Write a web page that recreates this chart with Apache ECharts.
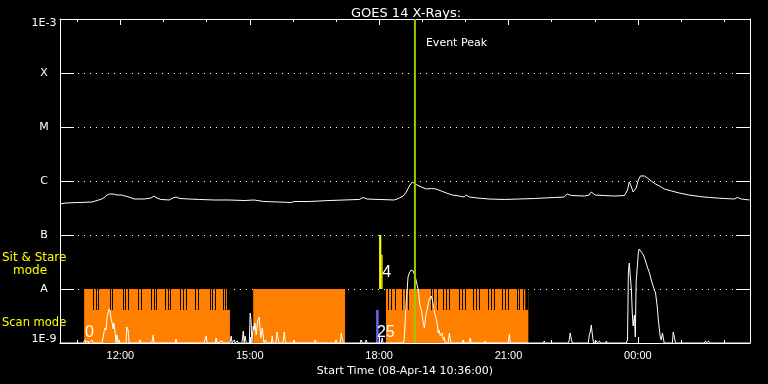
<!DOCTYPE html>
<html><head><meta charset="utf-8">
<script src="https://cdn.jsdelivr.net/npm/echarts@6/dist/echarts.min.js"></script>
<style>html,body{margin:0;padding:0;background:#000;}#c{width:768px;height:384px;}</style>
</head><body><div id="c"></div>
<script>
// ---------------- data ----------------
const titleText = 'GOES 14 X-Rays:';
const xAxisTitle = 'Start Time (08-Apr-14 10:36:00)';
const startHour = 10.6;   // 08-Apr-14 10:36
const endHour = 26.6;     // 09-Apr-14 02:36
const majorTicks = [12, 15, 18, 21, 24];
const majorLabels = ['12:00', '15:00', '18:00', '21:00', '00:00'];
const minorTicks = [11, 13, 14, 16, 17, 19, 20, 22, 23, 25, 26];
const yExponents = [-9, -8, -7, -6, -5, -4, -3];
const yLabels = ['1E-9', 'A', 'B', 'C', 'M', 'X', '1E-3'];

// GOES long channel flux (units of 1e-7 W/m^2)
const goesHours = [10.60,10.72,11.04,11.34,11.50,11.57,11.64,11.69,11.74,11.85,11.92,12.02,12.11,12.20,12.32,12.55,12.71,12.78,12.85,12.94,13.13,13.22,13.29,13.38,13.59,13.83,14.17,14.52,14.87,15.10,15.33,15.68,15.96,16.03,16.38,16.84,17.19,17.54,17.63,17.72,18.00,18.35,18.47,18.56,18.63,18.70,18.77,18.81,18.88,18.98,19.09,19.21,19.32,19.44,19.56,19.70,19.86,19.97,20.02,20.09,20.28,20.55,20.90,21.25,21.60,22.06,22.29,22.36,22.46,22.76,22.87,22.92,23.01,23.22,23.45,23.69,23.76,23.80,23.85,23.89,23.96,24.01,24.06,24.15,24.22,24.31,24.41,24.50,24.61,24.78,24.96,25.19,25.43,25.66,25.89,26.24,26.31,26.40,26.59];
const goesFlux = [3.75,3.91,4.00,4.08,4.45,4.64,5.05,5.50,5.74,5.74,5.50,5.50,5.27,5.05,4.64,4.64,4.84,5.27,4.84,4.55,4.45,4.84,5.05,4.74,4.64,4.55,4.45,4.45,4.35,4.45,4.17,4.08,4.00,4.17,4.17,4.35,4.45,4.55,4.95,4.64,4.55,4.45,4.84,5.27,6.25,8.07,9.58,9.58,8.43,7.74,7.11,7.26,7.11,6.53,5.99,5.50,5.27,5.05,5.50,5.05,4.84,4.64,4.55,4.64,4.74,4.95,5.05,5.74,5.38,5.27,5.50,6.25,5.50,5.38,5.27,5.38,6.81,9.58,7.74,6.25,7.42,10.4,12.4,12.4,11.4,10.0,8.80,8.07,7.11,6.53,5.99,5.50,5.16,4.95,4.80,4.64,4.95,4.64,4.45];

// lower (scan) curve: [hour, value in units of 1e-9]
const scanCurve = [[10.60,1],[11.13,1],[11.18,1.14],[11.20,1],[11.25,1.09],[11.27,1],[11.34,1.14],[11.37,1],
[11.57,1],[11.60,1.24],[11.62,1.60],[11.64,1.90],[11.67,1.74],[11.69,3.03],[11.71,3.59],[11.74,4.26],[11.76,3.91],[11.78,2.90],[11.81,2.35],[11.83,1.82],[11.85,2.35],[11.88,1.53],[11.90,1],[11.92,1.41],[11.95,1],[11.97,1.14],[11.99,1],
[12.13,1],[12.15,1.98],[12.18,1.74],[12.20,1],[12.43,1],[12.46,1.14],[12.48,1],[12.73,1],[12.76,1.41],[12.78,1],
[13.27,1],[13.29,1.19],[13.31,1],[13.94,1],[13.96,1.14],[13.99,1.35],[14.01,1],[14.20,1],[14.22,1.24],[14.24,1],[14.36,1.09],[14.38,1],
[14.54,1],[14.57,1.35],[14.59,1],[14.64,1.14],[14.66,1],[14.71,1.09],[14.73,1],[14.82,1],[14.85,1.67],[14.87,1],[14.89,1.35],[14.92,1],
[14.99,1],[15.01,3.59],[15.03,2.67],[15.05,1],[15.08,2.07],[15.10,1.74],[15.12,2.35],[15.15,1.41],[15.17,2.07],[15.19,2.67],[15.22,3.03],[15.24,1.74],[15.26,1.24],[15.29,1.90],[15.31,1.41],[15.33,1],[15.36,1.14],[15.40,1],
[15.50,1],[15.52,1.35],[15.54,1],[15.61,1],[15.63,1.60],[15.66,1.19],[15.68,1],[15.77,1],[15.80,1.60],[15.82,1.14],[15.84,1],
[16.01,1],[16.03,1.14],[16.05,1],[16.49,1],[16.52,1.14],[16.54,1],[16.98,1],[17.00,1.14],[17.03,1],[17.10,1],[17.12,1.53],[17.14,1.24],[17.17,1],
[17.56,1],[17.58,1.14],[17.61,1],[17.68,1],[17.70,1.14],[17.72,1],[18.05,1],[18.07,1.24],[18.09,1],
[18.56,1],[18.58,1.14],[18.60,2.15],[18.63,6.26],[18.65,9.58],[18.67,16.7],[18.70,19.8],[18.72,21.5],[18.74,22.5],[18.77,22.5],[18.79,21.5],[18.81,19.8],[18.84,16.7],[18.86,14.1],[18.88,11.9],[18.91,9.58],[18.93,6.26],[18.95,4.84],[18.98,4.08],[19.00,3.16],[19.02,2.45],[19.05,1.90],[19.07,2.67],[19.09,3.59],[19.12,4.45],[19.14,5.51],[19.16,6.26],[19.18,6.81],[19.21,7.42],[19.23,7.11],[19.25,5.51],[19.28,3.75],[19.30,3.30],[19.32,2.90],[19.35,2.15],[19.37,1.53],[19.39,1.74],[19.42,1.35],[19.44,1.24],[19.46,1.53],[19.49,1.14],[19.51,1.29],[19.53,1],
[19.60,1],[19.63,1.53],[19.65,1.14],[19.67,1],[19.93,1],[19.95,1.14],[19.97,1],[20.09,1],[20.11,1.24],[20.14,1],[20.44,1],[20.46,1.09],[20.48,1],
[20.99,1],[21.02,1.47],[21.04,1],[21.81,1],[21.83,1.09],[21.85,1],[22.39,1],[22.41,1.14],[22.43,1.53],[22.46,1.14],[22.48,1],
[22.85,1],[22.87,1.35],[22.90,1.67],[22.92,2.15],[22.94,1.53],[22.97,1],[23.01,1],[23.04,1.09],[23.06,1],[23.11,1.09],[23.13,1],[23.25,1],[23.27,1.09],[23.29,1],
[23.73,1],[23.76,1.14],[23.78,20.6],[23.80,30.3],[23.83,29.0],[23.85,9.58],[23.87,3.59],[23.89,2.07],[23.92,3.30],[23.94,1.29],[23.96,13.5],[23.99,27.8],[24.01,46.4],[24.03,55.0],[24.06,52.7],[24.08,48.4],[24.13,42.6],[24.17,34.4],[24.22,25.5],[24.27,19.8],[24.31,14.7],[24.36,10.9],[24.41,8.43],[24.45,4.64],[24.47,2.90],[24.50,1.74],[24.52,1.29],[24.54,1.14],[24.57,1.53],[24.59,1.24],[24.61,1],
[24.80,1],[24.82,1.60],[24.85,1.24],[24.87,1],[25.54,1],[25.57,1.09],[25.59,1],[25.64,1.09],[25.66,1],[26.59,1]];

// instrument modes
const baseLevel = 1e-9, scanFullLevel = 1e-8, scanPartLevel = 4.1e-9;
const scanBlocks = [[11.16, 14.54], [15.08, 17.21], [18.16, 21.46]];
const scanStripes = [11.37,11.43,11.49,11.75,11.81,12.05,12.11,12.17,12.42,12.48,12.72,12.78,12.83,13.04,13.10,13.15,13.39,13.45,13.52,13.74,13.79,14.07,14.13,14.19,14.37,14.42,
  18.21,18.28,18.36,18.52,18.60,18.67,19.20,19.26,19.34,19.47,19.55,19.63,19.86,19.93,20.00,20.17,20.24,20.31,20.52,20.59,20.67,20.84,20.91,20.98,21.19,21.25,21.33];
const scanPartial = [[14.47, 14.54], [21.39, 21.46]];
const sitStare = [[18.00, 18.05, 1.0e-7], [18.05, 18.08, 4.3e-8]];
const blueBar = [[17.93, 17.99, 4.1e-9]];
const plotNotes = [[11.18, 1.56e-9, '0'], [17.95, 1.53e-9, '25'], [18.07, 2.0e-8, '4']];
const eventPeakHour = 18.83;
const eventPeakLabel = 'Event Peak';
const eventLabelLevel = 3.6e-4;

// ---------------- chart ----------------
const W = '#ffffff';
const chart = echarts.init(document.getElementById('c'), null, {renderer: 'canvas'});

function rectRender(color) {
  return function (params, api) {
    const p0 = api.coord([api.value(0), api.value(2)]);
    const p1 = api.coord([api.value(1), api.value(3)]);
    return {type: 'rect', shape: {x: p0[0], y: p1[1], width: Math.max(1, p1[0] - p0[0]), height: p0[1] - p1[1]}, style: {fill: color}};
  };
}

const xCommon = {type: 'value', min: startHour, max: endHour, splitLine: {show: false}};
const yLabelMap = {};
yExponents.forEach((e, i) => yLabelMap[e] = yLabels[i]);

const option = {
  backgroundColor: '#000',
  animation: false,
  title: {text: titleText, left: 401, top: 2, textAlign: 'center',
    textStyle: {color: W, fontFamily: 'DejaVu Sans', fontSize: 13, fontWeight: 'normal'}},
  grid: {left: 60, right: 18, top: 19, bottom: 41},
  xAxis: [
    Object.assign({}, xCommon, {position: 'bottom',
      axisLine: {show: true, onZero: false, lineStyle: {color: W, width: 1}},
      axisTick: {show: true, inside: true, length: 6, customValues: majorTicks, lineStyle: {color: W}},
      axisLabel: {show: true, customValues: majorTicks, color: W, fontFamily: 'Liberation Sans', fontSize: 11, margin: 7,
        formatter: v => majorLabels[majorTicks.indexOf(Math.round(v))]},
      name: xAxisTitle, nameLocation: 'middle', nameGap: 19,
      nameTextStyle: {color: W, fontFamily: 'DejaVu Sans', fontSize: 11}}),
    Object.assign({}, xCommon, {position: 'bottom',
      axisLine: {show: false, onZero: false},
      axisTick: {show: true, inside: true, length: 3, customValues: minorTicks, lineStyle: {color: W}},
      axisLabel: {show: false}}),
    Object.assign({}, xCommon, {position: 'top',
      axisLine: {show: true, onZero: false, lineStyle: {color: W, width: 1}},
      axisTick: {show: true, inside: true, length: 6, customValues: majorTicks, lineStyle: {color: W}},
      axisLabel: {show: false}}),
    Object.assign({}, xCommon, {position: 'top',
      axisLine: {show: false, onZero: false},
      axisTick: {show: true, inside: true, length: 3, customValues: minorTicks, lineStyle: {color: W}},
      axisLabel: {show: false}})
  ],
  yAxis: [
    {type: 'log', logBase: 10, min: 1e-9, max: 1e-3, position: 'left',
      axisLine: {show: true, onZero: false, lineStyle: {color: W, width: 1}},
      axisTick: {show: true, inside: true, length: 14, lineStyle: {color: W}},
      axisLabel: {show: true, margin: 16, align: 'center', color: W, fontFamily: 'DejaVu Sans', fontSize: 11,
        formatter: v => {
          const e = Math.round(Math.log10(v));
          const t = yLabelMap[e];
          if (e === -9) return '{lo|' + t + '}';
          if (e === -3) return '{hi|' + t + '}';
          return '{n|' + t + '}';
        },
        rich: {
          lo: {color: W, fontFamily: 'DejaVu Sans', fontSize: 11, padding: [0, 0, 8, 0]},
          hi: {color: W, fontFamily: 'DejaVu Sans', fontSize: 11, padding: [8, 0, 0, 0]},
          n: {color: W, fontFamily: 'DejaVu Sans', fontSize: 11}
        }},
      splitLine: {show: true, lineStyle: {color: W, width: 1, type: [1, 5]}}},
    {type: 'log', logBase: 10, min: 1e-9, max: 1e-3, position: 'right',
      axisLine: {show: true, onZero: false, lineStyle: {color: W, width: 1}},
      axisTick: {show: true, inside: true, length: 14, lineStyle: {color: W}},
      axisLabel: {show: false}, splitLine: {show: false}}
  ],
  graphic: [
    {type: 'text', left: 2, top: 252, style: {text: 'Sit & Stare', fill: '#ffff00', font: '12px "DejaVu Sans"'}},
    {type: 'text', left: 13, top: 265, style: {text: 'mode', fill: '#ffff00', font: '12px "DejaVu Sans"'}},
    {type: 'text', left: 2, top: 317, style: {text: 'Scan mode', fill: '#ffff00', font: '11.5px "DejaVu Sans"'}}
  ],
  series: [
    {type: 'custom', name: 'scan', z: 1, silent: true, clip: true,
      renderItem: rectRender('#ff8000'), encode: {x: [0, 1], y: [2, 3]},
      data: scanBlocks.map(b => [b[0], b[1], baseLevel, scanFullLevel])},
    {type: 'custom', name: 'scanPartial', z: 2, silent: true, clip: true,
      renderItem: rectRender('#000000'), encode: {x: [0, 1], y: [2, 3]},
      data: scanPartial.map(b => [b[0], b[1], scanPartLevel, scanFullLevel])},
    {type: 'custom', name: 'stripes', z: 2, silent: true, clip: true,
      renderItem: function (params, api) {
        const pTop = api.coord([api.value(0), api.value(2)]);
        const pBot = api.coord([api.value(0), api.value(1)]);
        return {type: 'rect', shape: {x: Math.round(pTop[0]), y: pTop[1], width: 1, height: pBot[1] - pTop[1]}, style: {fill: '#000'}};
      },
      encode: {x: 0, y: [1, 2]},
      data: scanStripes.map(t => [t, scanPartLevel, scanFullLevel])},
    {type: 'custom', name: 'blue', z: 3, silent: true, clip: true,
      renderItem: rectRender('#6464f0'), encode: {x: [0, 1], y: [2, 3]},
      data: blueBar.map(b => [b[0], b[1], baseLevel, b[2]])},
    {type: 'custom', name: 'sitstare', z: 3, silent: true, clip: true,
      renderItem: rectRender('#ffff00'), encode: {x: [0, 1], y: [2, 3]},
      data: sitStare.map(b => [b[0], b[1], scanFullLevel, b[2]])},
    {type: 'line', name: 'scanCurve', z: 4, silent: true, showSymbol: false, symbol: 'none',
      lineStyle: {color: W, width: 1}, data: scanCurve.map(p => [p[0], p[1] * 1e-9])},
    {type: 'line', name: 'goes', z: 4, silent: true, showSymbol: false, symbol: 'none',
      lineStyle: {color: W, width: 1}, data: goesHours.map((h, i) => [h, goesFlux[i] * 1e-7])},
    {type: 'custom', name: 'notes', z: 5, silent: true,
      renderItem: function (params, api) {
        const p = api.coord([api.value(0), api.value(1)]);
        return {type: 'text', style: {text: plotNotes[params.dataIndex][2], x: p[0], y: p[1],
          fill: W, font: '16px "Liberation Sans"', align: 'left', verticalAlign: 'middle'}};
      },
      encode: {x: 0, y: 1},
      data: plotNotes.map(n => [n[0], n[1]])},
    {type: 'custom', name: 'event', z: 10, silent: true,
      renderItem: function (params, api) {
        const t = api.value(0);
        const pt = api.coord([t, 1e-3]);
        const pb = api.coord([t, 1e-9]);
        const pl = api.coord([t, api.value(1)]);
        return {type: 'group', children: [
          {type: 'line', shape: {x1: pt[0], y1: pt[1], x2: pb[0], y2: pb[1]}, style: {stroke: '#99cc00', lineWidth: 2}},
          {type: 'text', style: {text: eventPeakLabel, x: pl[0] + 11, y: pl[1], fill: W,
            font: '11px "DejaVu Sans"', align: 'left', verticalAlign: 'middle'}}
        ]};
      },
      encode: {x: 0, y: 1},
      data: [[eventPeakHour, eventLabelLevel]]}
  ]
};
chart.setOption(option);
</script></body></html>
